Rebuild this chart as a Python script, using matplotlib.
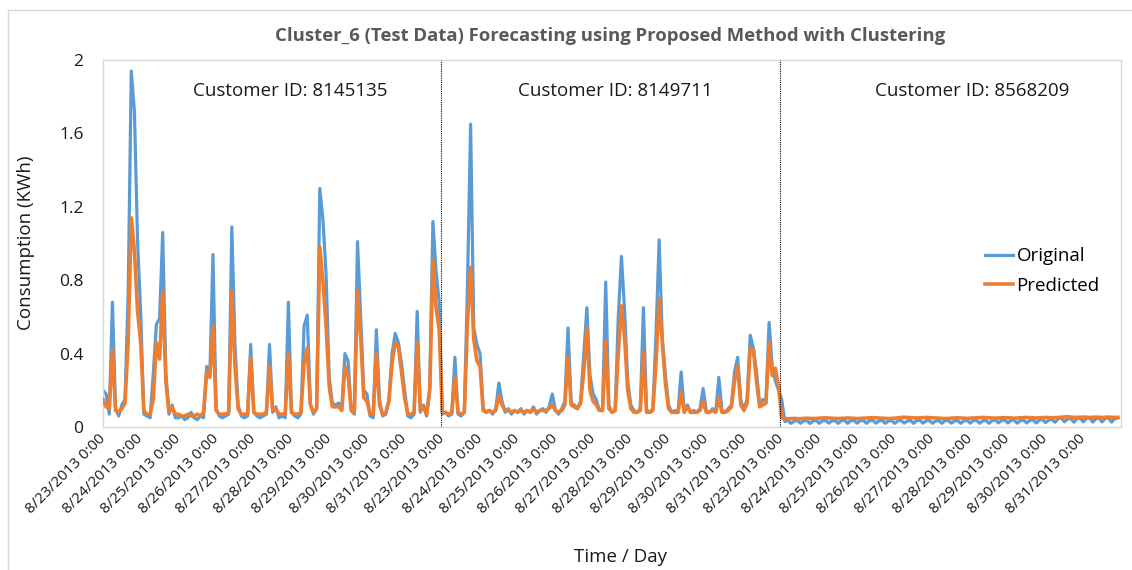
import numpy as np
import matplotlib
matplotlib.use('Agg')
import matplotlib.pyplot as plt
from matplotlib.lines import Line2D

plt.rcParams['font.family'] = ['Open Sans', 'DejaVu Sans']

# 고객별 2시간 간격 소비량 (8/23 ~ 8/31, 하루 12개)
orig_8145135 = [
    0.20, 0.18, 0.07, 0.68, 0.10, 0.06, 0.12, 0.15, 0.72, 1.94, 1.72, 1.01,
    0.62, 0.07, 0.06, 0.05, 0.29, 0.56, 0.59, 1.06, 0.30, 0.07, 0.12, 0.05,
    0.05, 0.06, 0.04, 0.05, 0.08, 0.05, 0.04, 0.06, 0.05, 0.33, 0.28, 0.94,
    0.10, 0.06, 0.05, 0.06, 0.07, 1.09, 0.45, 0.12, 0.06, 0.05, 0.06, 0.45,
    0.08, 0.06, 0.05, 0.06, 0.07, 0.45, 0.08, 0.11, 0.05, 0.06, 0.05, 0.68,
    0.08, 0.06, 0.05, 0.07, 0.55, 0.61, 0.13, 0.07, 0.10, 1.30, 1.13, 0.83,
    0.27, 0.13, 0.12, 0.13, 0.10, 0.40, 0.36, 0.09, 0.07, 1.01, 0.60, 0.20,
    0.18, 0.06, 0.05, 0.53, 0.15, 0.06, 0.07, 0.15, 0.40, 0.51, 0.46, 0.35,
    0.20, 0.06, 0.05, 0.07, 0.63, 0.08, 0.12, 0.06, 0.22, 1.12, 0.85, 0.68,
]
pred_8145135 = [
    0.15, 0.11, 0.10, 0.42, 0.09, 0.08, 0.10, 0.13, 0.46, 1.14, 0.96, 0.63,
    0.46, 0.09, 0.07, 0.07, 0.15, 0.46, 0.37, 0.74, 0.25, 0.08, 0.11, 0.07,
    0.07, 0.06, 0.06, 0.07, 0.06, 0.06, 0.07, 0.06, 0.08, 0.30, 0.27, 0.55,
    0.09, 0.07, 0.07, 0.07, 0.08, 0.74, 0.33, 0.10, 0.07, 0.07, 0.07, 0.38,
    0.08, 0.07, 0.07, 0.07, 0.08, 0.33, 0.09, 0.10, 0.07, 0.07, 0.07, 0.40,
    0.08, 0.07, 0.07, 0.08, 0.35, 0.43, 0.12, 0.08, 0.10, 0.98, 0.79, 0.55,
    0.22, 0.11, 0.11, 0.11, 0.09, 0.33, 0.28, 0.09, 0.08, 0.74, 0.49, 0.16,
    0.14, 0.07, 0.07, 0.40, 0.12, 0.07, 0.08, 0.14, 0.35, 0.46, 0.44, 0.30,
    0.16, 0.07, 0.07, 0.08, 0.46, 0.09, 0.11, 0.07, 0.20, 0.91, 0.65, 0.53,
]
orig_8149711 = [
    0.07, 0.08, 0.06, 0.07, 0.38, 0.07, 0.06, 0.08, 0.77, 1.65, 0.54, 0.45,
    0.40, 0.10, 0.08, 0.09, 0.07, 0.10, 0.24, 0.14, 0.08, 0.10, 0.07, 0.09,
    0.08, 0.10, 0.07, 0.09, 0.08, 0.11, 0.07, 0.09, 0.10, 0.08, 0.11, 0.18,
    0.09, 0.07, 0.10, 0.14, 0.54, 0.13, 0.12, 0.10, 0.14, 0.39, 0.65, 0.28,
    0.18, 0.15, 0.09, 0.10, 0.79, 0.12, 0.08, 0.09, 0.60, 0.93, 0.64, 0.25,
    0.12, 0.09, 0.08, 0.10, 0.65, 0.09, 0.08, 0.10, 0.50, 1.02, 0.49, 0.28,
    0.12, 0.08, 0.09, 0.08, 0.30, 0.09, 0.12, 0.08, 0.09, 0.08, 0.10, 0.21,
    0.09, 0.08, 0.10, 0.08, 0.27, 0.09, 0.08, 0.10, 0.12, 0.30, 0.38, 0.14,
    0.10, 0.15, 0.50, 0.43, 0.30, 0.12, 0.15, 0.14, 0.57, 0.33, 0.25, 0.20,
]
pred_8149711 = [
    0.08, 0.08, 0.07, 0.08, 0.27, 0.08, 0.07, 0.08, 0.57, 0.87, 0.48, 0.36,
    0.33, 0.09, 0.08, 0.09, 0.08, 0.09, 0.17, 0.12, 0.09, 0.09, 0.08, 0.09,
    0.08, 0.09, 0.08, 0.09, 0.08, 0.10, 0.08, 0.09, 0.09, 0.09, 0.10, 0.12,
    0.09, 0.08, 0.09, 0.12, 0.38, 0.12, 0.11, 0.10, 0.13, 0.30, 0.54, 0.20,
    0.14, 0.12, 0.09, 0.09, 0.47, 0.10, 0.08, 0.09, 0.40, 0.66, 0.49, 0.20,
    0.10, 0.08, 0.08, 0.09, 0.41, 0.08, 0.08, 0.09, 0.35, 0.70, 0.46, 0.24,
    0.10, 0.08, 0.08, 0.08, 0.19, 0.08, 0.11, 0.08, 0.08, 0.08, 0.09, 0.14,
    0.08, 0.08, 0.09, 0.08, 0.16, 0.08, 0.08, 0.09, 0.11, 0.25, 0.33, 0.12,
    0.09, 0.13, 0.43, 0.42, 0.25, 0.11, 0.12, 0.13, 0.46, 0.28, 0.32, 0.22,
]
orig_8568209 = [
    0.15, 0.030, 0.035, 0.020, 0.032, 0.036, 0.020, 0.034, 0.035, 0.019, 0.033, 0.036,
    0.020, 0.034, 0.036, 0.021, 0.033, 0.035, 0.020, 0.034, 0.037, 0.020, 0.035, 0.036,
    0.021, 0.034, 0.036, 0.020, 0.035, 0.037, 0.021, 0.034, 0.036, 0.020, 0.033, 0.035,
    0.020, 0.034, 0.036, 0.021, 0.033, 0.036, 0.020, 0.035, 0.037, 0.021, 0.034, 0.036,
    0.020, 0.033, 0.035, 0.020, 0.034, 0.036, 0.021, 0.033, 0.035, 0.020, 0.034, 0.036,
    0.021, 0.035, 0.037, 0.020, 0.034, 0.036, 0.020, 0.035, 0.038, 0.022, 0.036, 0.038,
    0.022, 0.036, 0.038, 0.021, 0.035, 0.037, 0.022, 0.036, 0.039, 0.022, 0.037, 0.040,
    0.024, 0.038, 0.042, 0.026, 0.045, 0.050, 0.028, 0.044, 0.046, 0.026, 0.045, 0.048,
    0.028, 0.046, 0.050, 0.027, 0.045, 0.048, 0.028, 0.047, 0.050, 0.027, 0.046, 0.049,
]
pred_8568209 = [
    0.050, 0.046, 0.045, 0.046, 0.047, 0.046, 0.045, 0.047, 0.048, 0.047, 0.046, 0.047,
    0.048, 0.049, 0.050, 0.049, 0.048, 0.047, 0.046, 0.047, 0.048, 0.049, 0.048, 0.047,
    0.046, 0.047, 0.048, 0.049, 0.050, 0.051, 0.050, 0.049, 0.048, 0.047, 0.046, 0.047,
    0.048, 0.050, 0.052, 0.053, 0.052, 0.051, 0.050, 0.049, 0.050, 0.051, 0.052, 0.051,
    0.050, 0.049, 0.048, 0.047, 0.046, 0.047, 0.048, 0.049, 0.050, 0.049, 0.048, 0.047,
    0.048, 0.049, 0.050, 0.051, 0.052, 0.051, 0.050, 0.049, 0.048, 0.049, 0.050, 0.051,
    0.050, 0.049, 0.048, 0.049, 0.050, 0.051, 0.052, 0.051, 0.050, 0.049, 0.050, 0.051,
    0.052, 0.051, 0.050, 0.051, 0.052, 0.053, 0.055, 0.056, 0.054, 0.053, 0.052, 0.053,
    0.054, 0.053, 0.052, 0.053, 0.054, 0.053, 0.052, 0.053, 0.054, 0.053, 0.052, 0.053,
]

customer_ids = ['8145135', '8149711', '8568209']
day_labels = ['8/23/2013 0:00', '8/24/2013 0:00', '8/25/2013 0:00', '8/26/2013 0:00',
              '8/27/2013 0:00', '8/28/2013 0:00', '8/29/2013 0:00', '8/30/2013 0:00',
              '8/31/2013 0:00']
y_ticks = [0, 0.4, 0.8, 1.2, 1.6, 2]
y_tick_labels = ['0', '0.4', '0.8', '1.2', '1.6', '2']

original = orig_8145135 + orig_8149711 + orig_8568209
predicted = pred_8145135 + pred_8149711 + pred_8568209
n_seg = len(orig_8145135)
per_day = 12
xs = np.arange(len(original))

fig = plt.figure(figsize=(11.32, 5.70), dpi=100)
ax = fig.add_axes([103 / 1132, 1 - 427 / 570, 1018 / 1132, 367 / 570])

ax.plot(xs, original, color='#5B9BD5', lw=2.3, label='Original', zorder=2)
ax.plot(xs, predicted, color='#ED7D31', lw=2.6, label='Predicted', zorder=3)

# 고객 구분선
for k in range(1, 3):
    ax.axvline(k * n_seg - 0.5, color='black', lw=0.8, ls=(0, (1, 1)), zorder=4)

# 고객 ID 텍스트
cid_x = [59.5, 163, 276.5]
for cx, cid in zip(cid_x, customer_ids):
    ax.text(cx, 1.83, 'Customer ID: ' + cid, ha='center', va='center',
            fontsize=13.5, color='#1a1a1a')

ax.set_xlim(0, len(original))
ax.set_ylim(0, 2)
ticks = np.arange(0, len(original), per_day)
ax.set_xticks(ticks)
ax.set_xticklabels(day_labels * 3, rotation=45, ha='right', va='center',
                   rotation_mode='anchor', fontsize=11, color='#1a1a1a')
ax.set_yticks(y_ticks)
ax.set_yticklabels(y_tick_labels, fontsize=12.5, color='#1a1a1a')
ax.tick_params(axis='both', length=0)
ax.tick_params(axis='x', pad=7)
ax.tick_params(axis='y', pad=14)
for s in ax.spines.values():
    s.set_color('#D9D9D9')
    s.set_linewidth(1)

ax.legend(loc='upper left', bbox_to_anchor=(0.866, 0.49), frameon=False,
          fontsize=13.5, handlelength=1.5, handletextpad=0.2,
          labelspacing=0.62, borderpad=0, borderaxespad=0)

fig.text(610 / 1132, 1 - 36 / 570,
         'Cluster_6 (Test Data) Forecasting using Proposed Method with Clustering',
         ha='center', va='center', fontsize=13.3, fontweight='bold', color='#595959')
fig.text(26 / 1132, 1 - 243 / 570, 'Consumption (KWh)', rotation=90,
         ha='center', va='center', fontsize=13.5, color='#1a1a1a')
fig.text(620 / 1132, 1 - 557 / 570, 'Time / Day', ha='center', va='center',
         fontsize=13.5, color='#1a1a1a')

# 차트 외곽선
fig.add_artist(Line2D([7.5 / 1132, 7.5 / 1132], [0, 1 - 9.5 / 570],
                      transform=fig.transFigure, color='#D9D9D9', lw=1))
fig.add_artist(Line2D([7.5 / 1132, 1], [1 - 9.5 / 570, 1 - 9.5 / 570],
                      transform=fig.transFigure, color='#D9D9D9', lw=1))

fig.savefig('out.png', dpi=100)
